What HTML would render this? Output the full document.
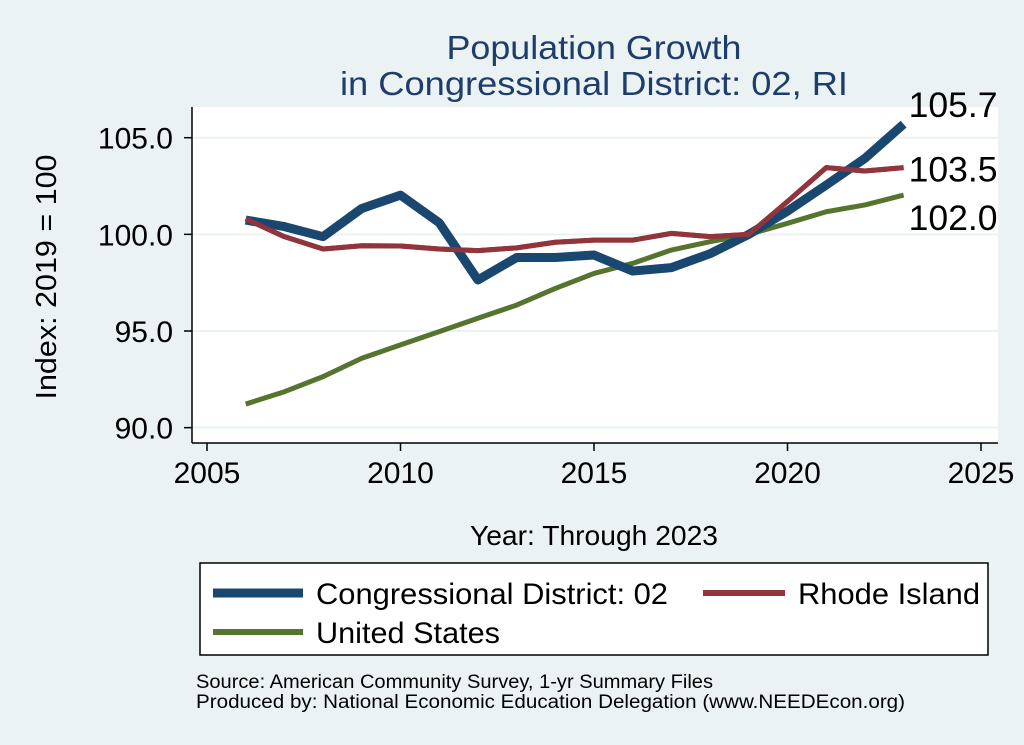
<!DOCTYPE html>
<html><head><meta charset="utf-8"><style>
body{margin:0;background:#eaf2f3;}
svg{display:block;font-family:"Liberation Sans",sans-serif;}
</style></head><body>
<svg id="c" width="1024" height="745">
<rect x="0" y="0" width="1024" height="745" fill="#eaf2f3"/>
<rect x="192" y="107" width="806" height="336" fill="#ffffff"/>
<text x="594" y="59" text-anchor="middle" font-size="33" textLength="295" lengthAdjust="spacingAndGlyphs" fill="#1e3d6b">Population Growth</text>
<text x="594" y="95" text-anchor="middle" font-size="33" textLength="508" lengthAdjust="spacingAndGlyphs" fill="#1e3d6b">in Congressional District: 02, RI</text>
<g id="grid"></g><g id="axes"></g><g id="series"></g><g id="labels"></g>
<text x="56" y="277" text-anchor="middle" font-size="29" textLength="245" lengthAdjust="spacingAndGlyphs" transform="rotate(-90 56 277)" fill="#000">Index: 2019 = 100</text>
<text x="594" y="545" text-anchor="middle" font-size="28" textLength="248" lengthAdjust="spacingAndGlyphs" fill="#000">Year: Through 2023</text>
<g>
<rect x="200" y="563" width="788" height="92" fill="#fff" stroke="#000" stroke-width="1.5"/>
<line x1="213" y1="593" x2="303" y2="593" stroke="#1a476f" stroke-width="9"/>
<text x="316" y="604" font-size="30" textLength="352" lengthAdjust="spacingAndGlyphs">Congressional District: 02</text>
<line x1="703" y1="593" x2="785" y2="593" stroke="#90353b" stroke-width="6"/>
<text x="798" y="604" font-size="30" textLength="182" lengthAdjust="spacingAndGlyphs">Rhode Island</text>
<line x1="213" y1="632" x2="303" y2="632" stroke="#55752f" stroke-width="6"/>
<text x="316" y="643" font-size="30" textLength="184" lengthAdjust="spacingAndGlyphs">United States</text>
</g>
<text x="196" y="688" font-size="19" textLength="517" lengthAdjust="spacingAndGlyphs">Source: American Community Survey, 1-yr Summary Files</text>
<text x="196" y="708" font-size="19" textLength="709" lengthAdjust="spacingAndGlyphs">Produced by: National Economic Education Delegation (www.NEEDEcon.org)</text>
</svg>
<script>
const years=[2006,2007,2008,2009,2010,2011,2012,2013,2014,2015,2016,2017,2018,2019,2020,2021,2022,2023];
const district=[100.74,100.4,99.88,101.34,102.03,100.6,97.64,98.8,98.8,98.93,98.1,98.28,99.0,100,101.2,102.55,103.93,105.7];
const rhodeIsland=[100.8,99.88,99.24,99.41,99.4,99.24,99.16,99.3,99.59,99.7,99.7,100.05,99.88,100,101.7,103.45,103.28,103.45];
const unitedStates=[91.22,91.86,92.64,93.59,94.28,94.97,95.66,96.34,97.2,97.98,98.5,99.19,99.62,100,100.57,101.17,101.52,102.03];
const yTicks=[90,95,100,105];
const yTickLabels=["90.0","95.0","100.0","105.0"];
const xTicks=[2005,2010,2015,2020,2025];
const endLabels=["105.7","103.5","102.0"];
const NS="http://www.w3.org/2000/svg";
const X=v=>207+(v-2005)*38.7;
const Y=v=>137.7+(105-v)*19.33;
function mk(t,a,p){const e=document.createElementNS(NS,t);for(const k in a)e.setAttribute(k,a[k]);p.appendChild(e);return e;}
const grid=document.getElementById('grid'),axes=document.getElementById('axes'),ser=document.getElementById('series'),lab=document.getElementById('labels');
yTicks.forEach((v,i)=>{
 const g=mk('line',{x1:192,x2:998,y1:Y(v),y2:Y(v),stroke:'#eaf2f3','stroke-width':2},grid);
 
 
 const t=mk('line',{x1:184,x2:192,y1:Y(v),y2:Y(v),stroke:'#000','stroke-width':1.5},axes);
 
 
 const l=mk('text',{x:173,y:Y(v)+11,'text-anchor':'end','font-size':30},axes);l.textContent=yTickLabels[i];
 
 
});
xTicks.forEach(v=>{
 const t=mk('line',{x1:X(v),x2:X(v),y1:443,y2:451,stroke:'#000','stroke-width':1.5},axes);
 
 
 const l=mk('text',{x:X(v),y:483,'text-anchor':'middle','font-size':30},axes);l.textContent=v;
 
 
});
const ya=mk('line',{x1:192,x2:192,y1:107,y2:443,stroke:'#000','stroke-width':1.5},axes);


const xa=mk('line',{x1:192,x2:998,y1:443,y2:443,stroke:'#000','stroke-width':1.5},axes);


function line(vals,color,w,name){
 const p=mk('polyline',{points:vals.map((v,i)=>X(years[i])+','+Y(v)).join(' '),fill:'none',stroke:color,'stroke-width':w,'stroke-linejoin':'round'},ser);
 
 
}
line(unitedStates,'#55752f',5,'line-united-states');
line(rhodeIsland,'#90353b',5,'line-rhode-island');
line(district,'#1a476f',9,'line-district');
line(rhodeIsland,'#90353b',5,'line-rhode-island-overlay');
const lastX=X(years[years.length-1])+5;
const ends=[[district,-7],[rhodeIsland,14],[unitedStates,35]];
ends.forEach((e,i)=>{
 const arr=e[0];const t=mk('text',{x:lastX,y:Y(arr[arr.length-1])+e[1],'font-size':35,textLength:89,lengthAdjust:'spacingAndGlyphs'},lab);t.textContent=endLabels[i];
 
 
});
</script>
</body></html>
